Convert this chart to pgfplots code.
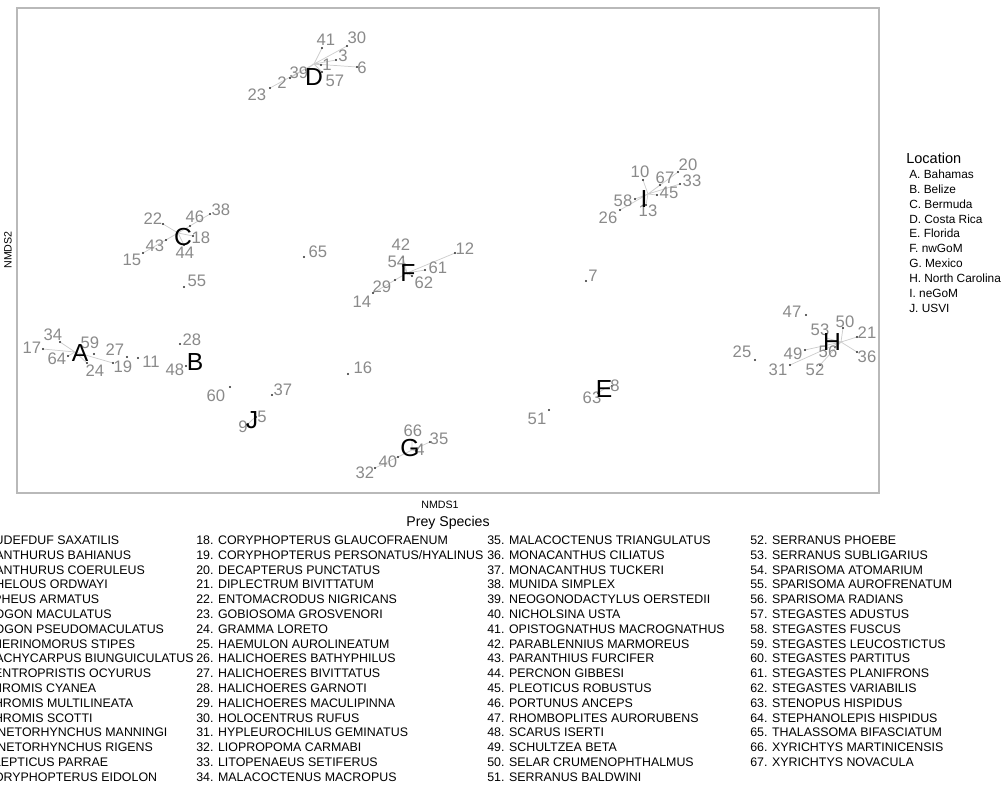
\documentclass[border=0pt]{standalone}
\usepackage{pgfplots}
\pgfplotsset{compat=1.18}
\usepackage{pgfplotstable}
\usepackage{fontspec}
\setmainfont{Liberation Sans}
\definecolor{numgray}{RGB}{138,138,138}
\definecolor{linegray}{RGB}{205,205,205}
\definecolor{framegray}{RGB}{185,185,185}
\definecolor{dotgray}{RGB}{60,60,60}

\pgfplotstableread{
lab lx ly dx dy
1 327 65 321 65
2 282 83 290 78
3 343 56 336 60
4 420 450 416 451
5 262 417 256 417
6 362 68 357 67
7 593 276 586 281
8 615 386 612 386
9 243 427 248 424
10 640 172 643 180
11 151 362 138 358
12 465 249 455 253
13 648 211 646 205
14 362 302 373 293
15 132 260 143 253
16 363 368 348 374
17 32 348 43 349
18 201 238 193 236
19 123 367 113 363
20 688 165 678 172
21 867 333 857 337
22 153 219 163 224
23 257 95 270 88
24 95 371 87 363
25 742 352 755 360
26 608 218 620 210
27 115 350 127 357
28 192 340 180 344
29 382 287 395 280
30 357 38 347 46
31 778 370 790 365
32 365 473 375 468
33 692 181 680 184
34 53 335 60 342
35 439 439 430 442
36 867 357 857 352
37 283 390 272 395
38 221 210 210 214
39 299 73 306 70
40 388 462 398 457
41 326 40 322 48
42 401 245 403 257
43 155 246 166 240
44 185 253 184 245
45 669 193 657 195
46 195 217 190 226
47 792 312 806 315
48 175 370 186 366
49 793 354 805 350
50 845 322 843 328
51 537 419 549 410
52 815 370 820 365
53 820 330 826 338
54 397 262 403 266
55 197 281 184 287
56 828 352 835 347
57 335 81 322 72
58 623 201 635 199
59 90 343 94 354
60 216 396 230 387
61 438 268 425 270
62 424 283 412 276
63 592 398 598 393
64 57 359 68 356
65 318 252 304 257
66 413 431 412 440
67 665 178 660 185
}\species

\pgfplotstableread{
lab x y
A 80 353
B 195 362
C 183 237
D 314 77
E 604 389
F 408 273
G 410 448
H 832 342
I 644 199
J 252 420
}\centres

\begin{document}
\begin{tikzpicture}
\useasboundingbox (0pt,0pt) rectangle (756pt,-589.5pt);
\clip (0pt,0pt) rectangle (756pt,-589.5pt);
\begin{axis}[
  at={(12.75pt,-6pt)}, anchor=north west,
  scale only axis, width=646.5pt, height=363.75pt,
  xmin=17, xmax=879, ymin=8, ymax=493, y dir=reverse,
  xtick=\empty, ytick=\empty,
  axis line style={draw=framegray, line width=0.8pt},
  clip=false,
]
% spider lines
\addplot[linegray, line width=0.55pt] coordinates {
 (75,352)(43,349)(75,352)(60,342)(75,352)(68,356)(75,352)(87,363)(75,352)(113,363)
};
\addplot[linegray, line width=0.55pt] coordinates {
 (178,233)(163,224)(178,233)(210,214)(178,233)(190,226)(178,233)(193,236)
 (178,233)(166,240)(178,233)(143,253)(178,233)(184,245)
};
\addplot[linegray, line width=0.55pt] coordinates {
 (314,64)(322,48)(314,64)(347,46)(314,64)(336,60)(314,64)(321,65)(314,64)(357,67)
 (314,64)(322,72)(314,64)(306,70)(314,64)(290,78)(314,64)(270,88)
};
\addplot[linegray, line width=0.55pt] coordinates {
 (604,389)(598,393)(604,389)(612,386)
};
\addplot[linegray, line width=0.55pt] coordinates {
 (407,273)(403,257)(407,273)(403,266)(407,273)(455,253)(407,273)(425,270)
 (407,273)(412,276)(407,273)(395,280)(407,273)(373,293)
};
\addplot[linegray, line width=0.55pt] coordinates {
 (412,450)(412,440)(412,450)(430,442)(412,450)(416,451)(412,450)(398,457)(412,450)(375,468)
};
\addplot[linegray, line width=0.55pt] coordinates {
 (841,342)(826,338)(841,342)(843,328)(841,342)(857,337)(841,342)(857,352)
 (841,342)(835,347)(841,342)(805,350)(841,342)(790,365)(841,342)(820,365)
};
\addplot[linegray, line width=0.55pt] coordinates {
 (648,194)(643,180)(648,194)(660,185)(648,194)(678,172)(648,194)(680,184)
 (648,194)(657,195)(648,194)(635,199)(648,194)(646,205)(648,194)(620,210)
};
\addplot[linegray, line width=0.55pt] coordinates {
 (252,420)(248,424)(252,420)(256,417)
};
% species points
\addplot[only marks, mark=*, mark size=0.55pt, dotgray] table[x=dx, y=dy] {\species};
% species labels
\addplot[draw=none, mark=none, point meta=explicit symbolic,
  nodes near coords,
  every node near coord/.style={anchor=center, inner sep=0pt, text=numgray,
    font=\fontsize{12.5}{14}\selectfont}]
  table[x=lx, y=ly, meta=lab] {\species};
% location labels
\addplot[draw=none, mark=none, point meta=explicit symbolic,
  nodes near coords,
  every node near coord/.style={anchor=center, inner sep=0pt, text=black,
    font=\fontsize{18.5}{20}\selectfont}]
  table[x=x, y=y, meta=lab] {\centres};
\end{axis}
\begin{scope}[x=0.75pt,y=-0.75pt]
\node[font=\fontsize{8}{9}\selectfont] at (440,505) {NMDS1};
\node[font=\fontsize{8}{9}\selectfont, rotate=90] at (8,250) {NMDS2};
% location legend
\node[anchor=base west, inner sep=0pt, font=\fontsize{10.9}{12}\selectfont] at (906,163) {Location};
\foreach \t [count=\i from 0] in {A. Bahamas, B. Belize, C. Bermuda, D. Costa Rica, E. Florida, F. nwGoM, G. Mexico, H. North Carolina, I. neGoM, J. USVI}{
  \node[anchor=base west, inner sep=0pt, font=\fontsize{8.9}{10}\selectfont] at (909,{178.3+14.9*\i}) {\t};
}
% prey species legend
\node[font=\fontsize{10.6}{12}\selectfont] at (448,523) {Prey Species};
\foreach \t [count=\n] in {ABUDEFDUF SAXATILIS, ACANTHURUS BAHIANUS, ACANTHURUS COERULEUS, ACHELOUS ORDWAYI, ALPHEUS ARMATUS, APOGON MACULATUS, APOGON PSEUDOMACULATUS, ATHERINOMORUS STIPES, BRACHYCARPUS BIUNGUICULATUS, CENTROPRISTIS OCYURUS, CHROMIS CYANEA, CHROMIS MULTILINEATA, CHROMIS SCOTTI, CINETORHYNCHUS MANNINGI, CINETORHYNCHUS RIGENS, CLEPTICUS PARRAE, CORYPHOPTERUS EIDOLON, CORYPHOPTERUS GLAUCOFRAENUM, CORYPHOPTERUS PERSONATUS/HYALINUS, DECAPTERUS PUNCTATUS, DIPLECTRUM BIVITTATUM, ENTOMACRODUS NIGRICANS, GOBIOSOMA GROSVENORI, GRAMMA LORETO, HAEMULON AUROLINEATUM, HALICHOERES BATHYPHILUS, HALICHOERES BIVITTATUS, HALICHOERES GARNOTI, HALICHOERES MACULIPINNA, HOLOCENTRUS RUFUS, HYPLEUROCHILUS GEMINATUS, LIOPROPOMA CARMABI, LITOPENAEUS SETIFERUS, MALACOCTENUS MACROPUS, MALACOCTENUS TRIANGULATUS, MONACANTHUS CILIATUS, MONACANTHUS TUCKERI, MUNIDA SIMPLEX, NEOGONODACTYLUS OERSTEDII, NICHOLSINA USTA, OPISTOGNATHUS MACROGNATHUS, PARABLENNIUS MARMOREUS, PARANTHIUS FURCIFER, PERCNON GIBBESI, PLEOTICUS ROBUSTUS, PORTUNUS ANCEPS, RHOMBOPLITES AURORUBENS, SCARUS ISERTI, SCHULTZEA BETA, SELAR CRUMENOPHTHALMUS, SERRANUS BALDWINI, SERRANUS PHOEBE, SERRANUS SUBLIGARIUS, SPARISOMA ATOMARIUM, SPARISOMA AUROFRENATUM, SPARISOMA RADIANS, STEGASTES ADUSTUS, STEGASTES FUSCUS, STEGASTES LEUCOSTICTUS, STEGASTES PARTITUS, STEGASTES PLANIFRONS, STEGASTES VARIABILIS, STENOPUS HISPIDUS, STEPHANOLEPIS HISPIDUS, THALASSOMA BIFASCIATUM, XYRICHTYS MARTINICENSIS, XYRICHTYS NOVACULA}{
  \pgfmathtruncatemacro\col{int((\n-1)/17)}
  \pgfmathtruncatemacro\row{mod(\n-1,17)}
  \pgfmathsetmacro\cx{{-37,196,487,750}[\col]}
  \node[anchor=base west, inner sep=0pt, font=\fontsize{9.3}{11}\selectfont] at (\cx,{544.5+14.8*\row}) {\n. \t};
}
\end{scope}
\end{tikzpicture}
\end{document}
